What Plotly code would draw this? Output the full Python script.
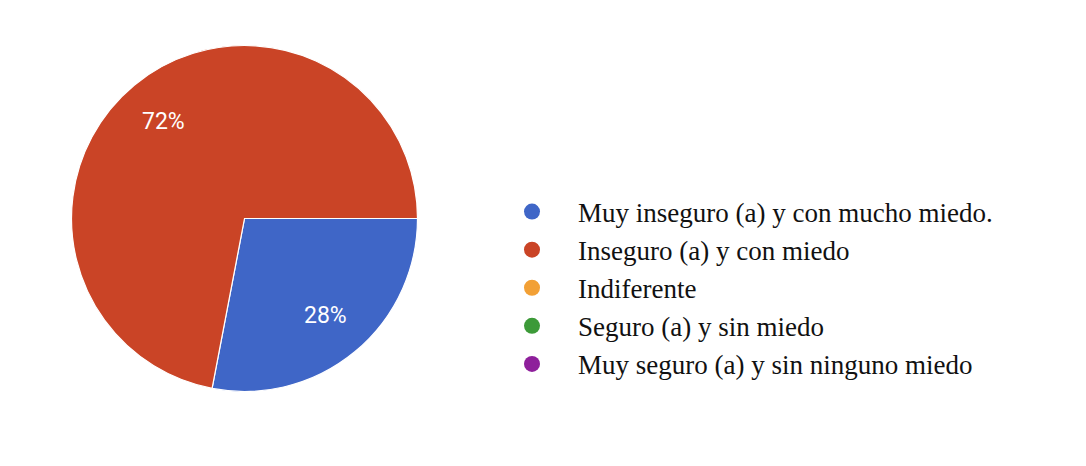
import math
import plotly.graph_objects as go

categories = [
    "Muy inseguro (a) y con mucho miedo.",
    "Inseguro (a) y con miedo",
    "Indiferente",
    "Seguro (a) y sin miedo",
    "Muy seguro (a) y sin ninguno miedo",
]
values = [28, 72, 0, 0, 0]
colors = ["#3F66C7", "#CA4426", "#F2A035", "#3C9A38", "#8E1F9B"]

W, H = 1086, 466
OFF = 8  # page body margin
cx, cy, r = 244.5 - OFF, 218.5 - OFF, 173
start_deg = 90  # start at 3 o'clock, clockwise
label_frac = 0.73

fig = go.Figure()
fig.add_trace(go.Pie(
    labels=categories,
    values=values,
    marker=dict(colors=colors, line=dict(color="white", width=1.2)),
    sort=False,
    direction="clockwise",
    rotation=start_deg,
    textinfo="none",
    showlegend=False,
    hoverinfo="label+percent",
    domain=dict(x=[(cx - r) / W, (cx + r) / W], y=[(H - cy - r) / H, (H - cy + r) / H]),
))

# percentage labels placed at slice mid-angles
total = sum(values)
acc = 0.0
for v in values:
    if v <= 0:
        continue
    mid = acc + v / 2
    acc += v
    ang = math.radians(start_deg + mid / total * 360)  # clockwise from 12 o'clock
    px = cx + label_frac * r * math.sin(ang)
    py = cy - label_frac * r * math.cos(ang)
    fig.add_annotation(
        x=px / W, y=(H - py) / H, xref="paper", yref="paper",
        text=f"{round(v / total * 100)}%", showarrow=False,
        font=dict(family="Roboto", size=23, color="white"),
        xanchor="center", yanchor="middle",
    )

for name, col in zip(categories, colors):
    fig.add_trace(go.Scatter(
        x=[None], y=[None], mode="markers", name=name,
        marker=dict(color=col, size=20, symbol="circle"),
        showlegend=True,
    ))

fig.update_layout(
    width=W, height=H,
    margin=dict(l=0, r=0, t=0, b=0),
    paper_bgcolor="white", plot_bgcolor="white",
    xaxis=dict(visible=False), yaxis=dict(visible=False),
    legend=dict(
        x=(532 - 46 - OFF) / W, xanchor="left",
        y=(H - (288 - OFF)) / H, yanchor="middle",
        font=dict(family="Liberation Serif", size=27, color="#111111"),
        itemwidth=82,
        bgcolor="rgba(0,0,0,0)",
    ),
)

fig.write_html("out.html")
